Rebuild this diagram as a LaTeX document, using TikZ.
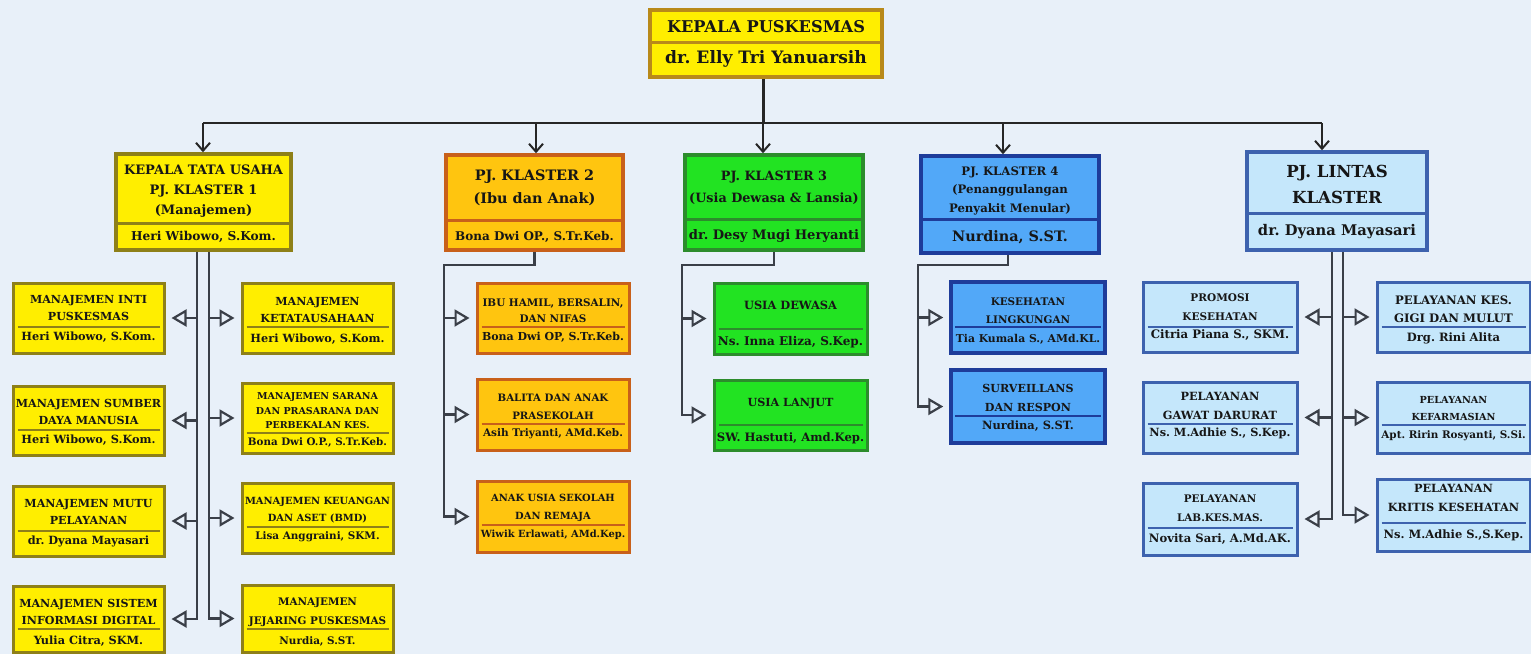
\documentclass[tikz,border=0pt]{standalone}
\usepackage{fontspec}
\setmainfont{DejaVu Serif}
\usetikzlibrary{arrows.meta,positioning,calc}
\definecolor{bgc}{HTML}{E8F0F9}
\definecolor{txtc}{HTML}{161616}
\definecolor{topb}{HTML}{B8891A}
\definecolor{yfill}{HTML}{FFEE00}
\definecolor{ybord}{HTML}{8E8018}
\definecolor{ofill}{HTML}{FFC50F}
\definecolor{obord}{HTML}{C8601A}
\definecolor{gfill}{HTML}{22E322}
\definecolor{gbord}{HTML}{2C8C2C}
\definecolor{bfill}{HTML}{52A8F8}
\definecolor{bbord}{HTML}{1E3C9A}
\definecolor{lfill}{HTML}{C5E7FB}
\definecolor{lbord}{HTML}{3D62AE}
\definecolor{lnc}{HTML}{3A3F48}
\frenchspacing

\begin{document}
\begin{tikzpicture}[x=1pt, y=-1pt,
  box/.style 2 args={draw=#1, fill=#2, line width=3pt, inner sep=0pt, minimum width=152, minimum height=70},
  ttl/.style={font=\bfseries\fontsize{11.1}{17}\selectfont, align=center, inner sep=0pt, text=txtc},
  nm/.style={font=\bfseries\fontsize{11.3}{13}\selectfont, inner sep=0pt, text=txtc},
  sep/.style={line width=2.5pt},
  bus/.style={line width=2pt, black!85},
  arr/.style={-{Straight Barb[length=8pt, width=14pt, line width=2pt]}, line width=2.4pt, black!85},
  ln/.style={line width=2.5pt, lnc},
  oarr/.style={-{Triangle[open, length=15pt, width=17pt, line width=2.2pt]}, line width=2.5pt, lnc, shorten >=6pt}]
\useasboundingbox (0,0) rectangle (1531,654);
\fill[bgc] (0,0) rectangle (1531,654);

% kepala puskesmas
\node[box={topb}{yfill}, line width=3.5pt, minimum width=232, minimum height=67] (top) at (766,43.5) {};
\node[ttl, font=\bfseries\fontsize{16.2}{20}\selectfont] (top-t) at (766,27) {KEPALA PUSKESMAS};
\node[nm, font=\bfseries\fontsize{17.1}{20}\selectfont] (top-n) at (766,59) {dr. Elly Tri Yanuarsih};
\draw[sep, topb, line width=3pt] (top.west |- 0,42.5) -- (top.east |- 0,42.5);

% klaster
\node[box={ybord}{yfill}, line width=3.5pt, minimum width=175, minimum height=96] (k1) at (203.5,202) {};
\node[ttl, font=\bfseries\fontsize{13}{20}\selectfont] (k1-t) at (203.5,191) {KEPALA TATA USAHA\\PJ. KLASTER 1\\(Manajemen)};
\node[nm, font=\bfseries\fontsize{12.2}{15}\selectfont] (k1-n) at (203.5,237) {Heri Wibowo, S.Kom.};
\draw[sep, ybord, line width=3pt] (k1.west |- 0,223) -- (k1.east |- 0,223);

\node[box={obord}{ofill}, line width=3.5pt, minimum width=177, minimum height=95] (k2) at (534.5,202.5) {};
\node[ttl, font=\bfseries\fontsize{14.4}{23}\selectfont] (k2-t) at (534.5,187.5) {PJ. KLASTER 2\\(Ibu dan Anak)};
\node[nm, font=\bfseries\fontsize{12}{14}\selectfont] (k2-n) at (534.5,237) {Bona Dwi OP., S.Tr.Keb.};
\draw[sep, obord, line width=3pt] (k2.west |- 0,220) -- (k2.east |- 0,220);

\node[box={gbord}{gfill}, line width=3.5pt, minimum width=178, minimum height=95] (k3) at (774,202.5) {};
\node[ttl, font=\bfseries\fontsize{12.8}{22}\selectfont] (k3-t) at (774,188) {PJ. KLASTER 3\\(Usia Dewasa \& Lansia)};
\node[nm, font=\bfseries\fontsize{13.1}{15}\selectfont] (k3-n) at (774,236) {dr. Desy Mugi Heryanti};
\draw[sep, gbord, line width=3pt] (k3.west |- 0,219) -- (k3.east |- 0,219);

\node[box={bbord}{bfill}, line width=3.5pt, minimum width=178, minimum height=97] (k4) at (1010,204.5) {};
\node[ttl, font=\bfseries\fontsize{11.7}{18.5}\selectfont] (k4-t) at (1010,190.5) {PJ. KLASTER 4\\(Penanggulangan\\Penyakit Menular)};
\node[nm, font=\bfseries\fontsize{14.4}{16}\selectfont] (k4-n) at (1010,237) {Nurdina, S.ST.};
\draw[sep, bbord, line width=3pt] (k4.west |- 0,219) -- (k4.east |- 0,219);

\node[box={lbord}{lfill}, line width=3.5pt, minimum width=180, minimum height=98] (lk) at (1337,201) {};
\node[ttl, font=\bfseries\fontsize{16.6}{26}\selectfont] (lk-t) at (1337,184) {PJ. LINTAS\\KLASTER};
\node[nm, font=\bfseries\fontsize{14.7}{16}\selectfont] (lk-n) at (1337,232) {dr. Dyana Mayasari};
\draw[sep, lbord, line width=3pt] (lk.west |- 0,213) -- (lk.east |- 0,213);

% garis utama
\coordinate (hub) at (763,123);
\coordinate (b1) at (203,123);
\coordinate (b2) at (536,123);
\coordinate (b4) at (1003,123);
\coordinate (b5) at (1322,123);
\draw[bus, line width=3pt] (top.south -| hub) -- (hub);
\draw[bus] (b1) -- (b5);
\draw[arr] (b1) -- (b1 |- k1.north);
\draw[arr] (b2) -- (b2 |- k2.north);
\draw[arr] (hub) -- (hub |- k3.north);
\draw[arr] (b4) -- (b4 |- k4.north);
\draw[arr] (b5) -- (b5 |- lk.north);

% klaster 1 (manajemen)
\node[box={ybord}{yfill}, minimum width=151] (m1) at (88.5,318) {};
\node[ttl] (m1-t) at (88.5,308.5) {MANAJEMEN INTI\\PUSKESMAS};
\node[nm] (m1-n) at (88.5,337) {Heri Wibowo, S.Kom.};
\draw[sep, ybord] ([xshift=6pt]m1.west |- 0,327) -- ([xshift=-6pt]m1.east |- 0,327);

\node[box={ybord}{yfill}, minimum width=151, minimum height=69] (m2) at (88.5,420.5) {};
\node[ttl] (m2-t) at (88.5,412) {MANAJEMEN SUMBER\\DAYA MANUSIA};
\node[nm] (m2-n) at (88.5,440) {Heri Wibowo, S.Kom.};
\draw[sep, ybord] ([xshift=6pt]m2.west |- 0,430) -- ([xshift=-6pt]m2.east |- 0,430);

\node[box={ybord}{yfill}, minimum width=151] (m3) at (88.5,521) {};
\node[ttl] (m3-t) at (88.5,512) {MANAJEMEN MUTU\\PELAYANAN};
\node[nm] (m3-n) at (88.5,541) {dr. Dyana Mayasari};
\draw[sep, ybord] ([xshift=6pt]m3.west |- 0,531) -- ([xshift=-6pt]m3.east |- 0,531);

\node[box={ybord}{yfill}, minimum width=151, minimum height=66] (m4) at (88.5,619) {};
\node[ttl] (m4-t) at (88.5,612) {MANAJEMEN SISTEM\\INFORMASI DIGITAL};
\node[nm] (m4-n) at (88.5,641) {Yulia Citra, SKM.};
\draw[sep, ybord] ([xshift=6pt]m4.west |- 0,629) -- ([xshift=-6pt]m4.east |- 0,629);

\node[box={ybord}{yfill}, minimum width=151] (m5) at (317.5,318) {};
\node[ttl] (m5-t) at (317.5,310) {MANAJEMEN\\KETATAUSAHAAN};
\node[nm] (m5-n) at (317.5,339) {Heri Wibowo, S.Kom.};
\draw[sep, ybord] ([xshift=6pt]m5.west |- 0,327) -- ([xshift=-6pt]m5.east |- 0,327);

\node[box={ybord}{yfill}, minimum width=151] (m6) at (317.5,418) {};
\node[ttl, font=\bfseries\fontsize{9.5}{14.5}\selectfont] (m6-t) at (317.5,411) {MANAJEMEN SARANA\\DAN PRASARANA DAN\\PERBEKALAN KES.};
\node[nm, font=\bfseries\fontsize{10.3}{12}\selectfont] (m6-n) at (317.5,442) {Bona Dwi O.P., S.Tr.Keb.};
\draw[sep, ybord] ([xshift=6pt]m6.west |- 0,433) -- ([xshift=-6pt]m6.east |- 0,433);

\node[box={ybord}{yfill}, minimum width=151] (m7) at (317.5,518) {};
\node[ttl, font=\bfseries\fontsize{9.9}{17}\selectfont] (m7-t) at (317.5,510.5) {MANAJEMEN KEUANGAN\\DAN ASET (BMD)};
\node[nm, font=\bfseries\fontsize{10.4}{12}\selectfont] (m7-n) at (317.5,537) {Lisa Anggraini, SKM.};
\draw[sep, ybord] ([xshift=6pt]m7.west |- 0,527) -- ([xshift=-6pt]m7.east |- 0,527);

\node[box={ybord}{yfill}, minimum width=151, minimum height=67] (m8) at (317.5,618.5) {};
\node[ttl, font=\bfseries\fontsize{10.4}{19}\selectfont] (m8-t) at (317.5,612.5) {MANAJEMEN\\JEJARING PUSKESMAS};
\node[nm, font=\bfseries\fontsize{10.4}{12}\selectfont] (m8-n) at (317.5,641) {Nurdia, S.ST.};
\draw[sep, ybord] ([xshift=6pt]m8.west |- 0,629) -- ([xshift=-6pt]m8.east |- 0,629);

\draw[oarr] ([xshift=-6.5pt]k1.south) |- (m4.east);
\draw[oarr] ([xshift=5.5pt]k1.south) |- (m8.west);
\draw[oarr] ([xshift=-6.5pt]k1.south |- m1.east) -- (m1.east);
\draw[oarr] ([xshift=-6.5pt]k1.south |- m2.east) -- (m2.east);
\draw[oarr] ([xshift=-6.5pt]k1.south |- m3.east) -- (m3.east);
\draw[oarr] ([xshift=5.5pt]k1.south |- m5.west) -- (m5.west);
\draw[oarr] ([xshift=5.5pt]k1.south |- m6.west) -- (m6.west);
\draw[oarr] ([xshift=5.5pt]k1.south |- m7.west) -- (m7.west);

% klaster 2 (ibu dan anak)
\node[box={obord}{ofill}] (c21) at (553,318) {};
\node[ttl, font=\bfseries\fontsize{10.4}{16}\selectfont] (c21-t) at (553,311) {IBU HAMIL, BERSALIN,\\DAN NIFAS};
\node[nm, font=\bfseries\fontsize{11}{12}\selectfont] (c21-n) at (553,337) {Bona Dwi OP, S.Tr.Keb.};
\draw[sep, obord] ([xshift=6pt]c21.west |- 0,327) -- ([xshift=-6pt]c21.east |- 0,327);

\node[box={obord}{ofill}, minimum height=71] (c22) at (553,414.5) {};
\node[ttl, font=\bfseries\fontsize{10.2}{18}\selectfont] (c22-t) at (553,407) {BALITA DAN ANAK\\PRASEKOLAH};
\node[nm, font=\bfseries\fontsize{10.5}{12}\selectfont] (c22-n) at (553,434) {Asih Triyanti, AMd.Keb.};
\draw[sep, obord] ([xshift=6pt]c22.west |- 0,424) -- ([xshift=-6pt]c22.east |- 0,424);

\node[box={obord}{ofill}, minimum height=71] (c23) at (553,516.5) {};
\node[ttl, font=\bfseries\fontsize{9.9}{18}\selectfont] (c23-t) at (553,508) {ANAK USIA SEKOLAH\\DAN REMAJA};
\node[nm, font=\bfseries\fontsize{9.9}{12}\selectfont] (c23-n) at (553,535) {Wiwik Erlawati, AMd.Kep.};
\draw[sep, obord] ([xshift=6pt]c23.west |- 0,525) -- ([xshift=-6pt]c23.east |- 0,525);

\coordinate (k2e) at (444,265);
\draw[oarr] (k2.south) |- (k2e) |- (c23.west);
\draw[oarr] (k2e |- c21.west) -- (c21.west);
\draw[oarr] (k2e |- c22.west) -- (c22.west);

% klaster 3 (usia dewasa & lansia)
\node[box={gbord}{gfill}, minimum width=153, minimum height=71] (c31) at (790.5,318.5) {};
\node[ttl, font=\bfseries\fontsize{11.4}{17}\selectfont] (c31-t) at (790.5,305) {USIA DEWASA};
\node[nm, font=\bfseries\fontsize{12}{13}\selectfont] (c31-n) at (790.5,342) {Ns. Inna Eliza, S.Kep.};
\draw[sep, gbord] ([xshift=6pt]c31.west |- 0,329) -- ([xshift=-6pt]c31.east |- 0,329);

\node[box={gbord}{gfill}, minimum width=153] (c32) at (790.5,415) {};
\node[ttl, font=\bfseries\fontsize{11.2}{17}\selectfont] (c32-t) at (790.5,404) {USIA LANJUT};
\node[nm, font=\bfseries\fontsize{11.6}{13}\selectfont] (c32-n) at (790.5,438) {SW. Hastuti, Amd.Kep.};
\draw[sep, gbord] ([xshift=6pt]c32.west |- 0,425) -- ([xshift=-6pt]c32.east |- 0,425);

\coordinate (k3e) at (682,265);
\draw[oarr] (k3.south) |- (k3e) |- (c32.west);
\draw[oarr] (k3e |- c31.west) -- (c31.west);

% klaster 4 (penyakit menular)
\node[box={bbord}{bfill}, line width=3.5pt, minimum width=154, minimum height=71] (c41) at (1028,317.5) {};
\node[ttl, font=\bfseries\fontsize{10.4}{18}\selectfont] (c41-t) at (1028,311) {KESEHATAN\\LINGKUNGAN};
\node[nm, font=\bfseries\fontsize{10.8}{13}\selectfont] (c41-n) at (1028,339) {Tia Kumala S., AMd.KL.};
\draw[sep, bbord] ([xshift=6pt]c41.west |- 0,327) -- ([xshift=-6pt]c41.east |- 0,327);

\node[box={bbord}{bfill}, line width=3.5pt, minimum width=154, minimum height=73] (c42) at (1028,406.5) {};
\node[ttl, font=\bfseries\fontsize{11.1}{19}\selectfont] (c42-t) at (1028,397.5) {SURVEILLANS\\DAN RESPON};
\node[nm, font=\bfseries\fontsize{11.4}{14}\selectfont] (c42-n) at (1028,426) {Nurdina, S.ST.};
\draw[sep, bbord] ([xshift=6pt]c42.west |- 0,416) -- ([xshift=-6pt]c42.east |- 0,416);

\coordinate (k4e) at (918,265);
\draw[oarr] ([xshift=-2pt]k4.south) |- (k4e) |- (c42.west);
\draw[oarr] (k4e |- c41.west) -- (c41.west);

% lintas klaster
\node[box={lbord}{lfill}, minimum width=154] (l1) at (1220,317) {};
\node[ttl, font=\bfseries\fontsize{10.5}{19}\selectfont] (l1-t) at (1220,307.5) {PROMOSI\\KESEHATAN};
\node[nm, font=\bfseries\fontsize{11.7}{13}\selectfont] (l1-n) at (1220,335) {Citria Piana S., SKM.};
\draw[sep, lbord] ([xshift=6pt]l1.west |- 0,327) -- ([xshift=-6pt]l1.east |- 0,327);

\node[box={lbord}{lfill}, minimum width=154, minimum height=71] (l2) at (1220,417.5) {};
\node[ttl, font=\bfseries\fontsize{11.3}{19}\selectfont] (l2-t) at (1220,405.5) {PELAYANAN\\GAWAT DARURAT};
\node[nm] (l2-n) at (1220,433) {Ns. M.Adhie S., S.Kep.};
\draw[sep, lbord] ([xshift=6pt]l2.west |- 0,424) -- ([xshift=-6pt]l2.east |- 0,424);

\node[box={lbord}{lfill}, minimum width=154, minimum height=72] (l3) at (1220,519) {};
\node[ttl, font=\bfseries\fontsize{10.4}{19}\selectfont] (l3-t) at (1220,508.5) {PELAYANAN\\LAB.KES.MAS.};
\node[nm, font=\bfseries\fontsize{11.6}{13}\selectfont] (l3-n) at (1220,539) {Novita Sari, A.Md.AK.};
\draw[sep, lbord] ([xshift=6pt]l3.west |- 0,528) -- ([xshift=-6pt]l3.east |- 0,528);

\node[box={lbord}{lfill}, minimum width=153] (r1) at (1453.5,317) {};
\node[ttl, font=\bfseries\fontsize{11.7}{18}\selectfont] (r1-t) at (1453.5,309) {PELAYANAN KES.\\GIGI DAN MULUT};
\node[nm, font=\bfseries\fontsize{11.5}{13}\selectfont] (r1-n) at (1453.5,338) {Drg. Rini Alita};
\draw[sep, lbord] ([xshift=6pt]r1.west |- 0,327) -- ([xshift=-6pt]r1.east |- 0,327);

\node[box={lbord}{lfill}, minimum width=153, minimum height=71] (r2) at (1453.5,417.5) {};
\node[ttl, font=\bfseries\fontsize{9.7}{17}\selectfont] (r2-t) at (1453.5,408.5) {PELAYANAN\\KEFARMASIAN};
\node[nm, font=\bfseries\fontsize{10.4}{12}\selectfont] (r2-n) at (1453.5,436) {Apt. Ririn Rosyanti, S.Si.};
\draw[sep, lbord] ([xshift=6pt]r2.west |- 0,425) -- ([xshift=-6pt]r2.east |- 0,425);

\node[box={lbord}{lfill}, minimum width=153, minimum height=72] (r3) at (1453.5,515) {};
\node[ttl, font=\bfseries\fontsize{11.3}{19}\selectfont] (r3-t) at (1453.5,497.5) {PELAYANAN\\KRITIS KESEHATAN};
\node[nm, font=\bfseries\fontsize{11.5}{13}\selectfont] (r3-n) at (1453.5,535) {Ns. M.Adhie S.,S.Kep.};
\draw[sep, lbord] ([xshift=6pt]r3.west |- 0,523) -- ([xshift=-6pt]r3.east |- 0,523);

\draw[oarr] ([xshift=-5pt]lk.south) |- (l3.east);
\draw[oarr] ([xshift=6pt]lk.south) |- (r3.west);
\draw[oarr] ([xshift=-5pt]lk.south |- l1.east) -- (l1.east);
\draw[oarr] ([xshift=-5pt]lk.south |- l2.east) -- (l2.east);
\draw[oarr] ([xshift=6pt]lk.south |- r1.west) -- (r1.west);
\draw[oarr] ([xshift=6pt]lk.south |- r2.west) -- (r2.west);
\end{tikzpicture}
\end{document}
